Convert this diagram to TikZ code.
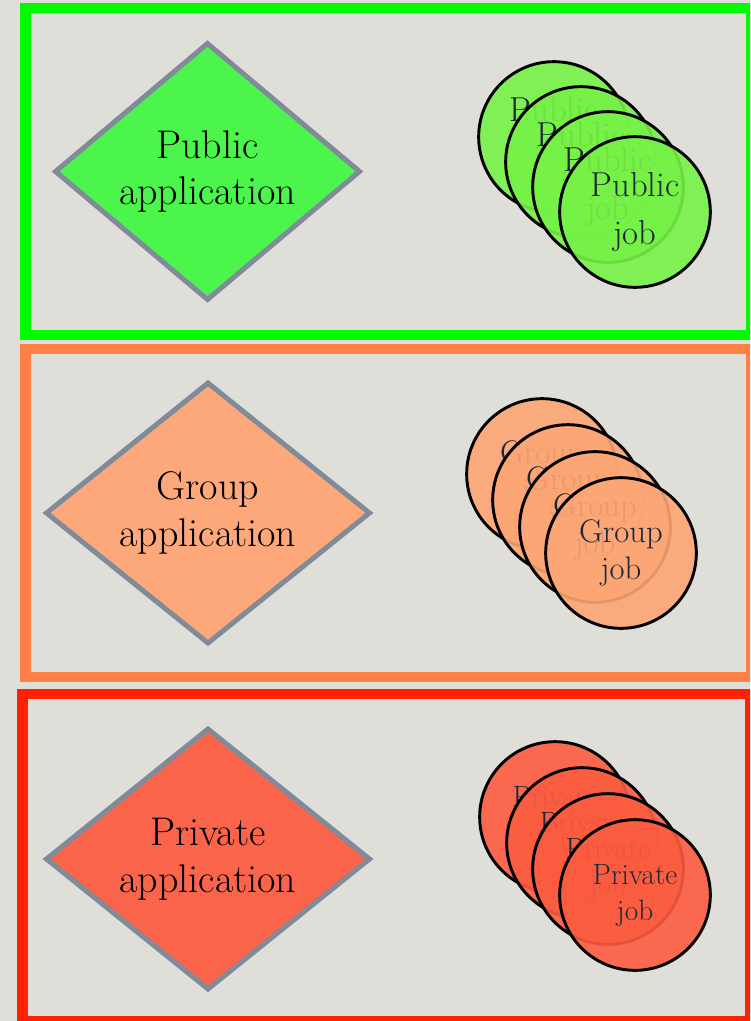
\documentclass[tikz,border=0pt]{standalone}
\usepackage{tikz}
\usetikzlibrary{shapes.geometric, positioning}

\definecolor{paper}{RGB}{224,222,217}
\definecolor{edgegray}{RGB}{128,139,154}
\definecolor{inkblue}{RGB}{28,40,56}
\definecolor{pubframe}{RGB}{0,250,0}
\definecolor{pubapp}{RGB}{76,245,76}
\definecolor{pubjob}{RGB}{118,242,70}
\definecolor{grpframe}{RGB}{255,128,68}
\definecolor{grpapp}{RGB}{252,168,122}
\definecolor{grpjob}{RGB}{252,166,116}
\definecolor{privframe}{RGB}{255,34,0}
\definecolor{privapp}{RGB}{250,100,74}
\definecolor{privjob}{RGB}{252,92,64}

\begin{document}
\begin{tikzpicture}[
    x=0.75pt, y=-0.75pt,
    frame/.style={line width=7.9pt},
    application/.style={diamond, draw=edgegray, line width=3.75pt, aspect=1.2, inner sep=0pt, align=center, font=\fontsize{30}{35}\selectfont},
    job/.style={circle, draw=black, line width=2.2pt, minimum size=113pt, inner sep=0pt, align=center, fill opacity=0.9, text opacity=1, text=inkblue}
]

% Background
\useasboundingbox (0,0) rectangle (750,1021);
\clip (0,0) rectangle (750,1021);
\fill[paper] (0,0) rectangle (750,1021);

% Frames
\draw[frame, pubframe] (25.5,8) rectangle (751,335);
\draw[frame, grpframe] (25.5,349) rectangle (751,677);
\draw[frame, privframe] (22.5,694) rectangle (750.5,1021);

% Public tier
\node[application, fill=pubapp, minimum width=229.5pt, minimum height=193.5pt] (pubapplication) at (207.5,171.5) {Public\\application};
\node[job, fill=pubjob, font=\fontsize{26}{36}\selectfont] (pubjob1) at (554,137) {Public\\job};
\node[job, fill=pubjob, font=\fontsize{26}{36}\selectfont] (pubjob2) at (581,162) {Public\\job};
\node[job, fill=pubjob, font=\fontsize{26}{36}\selectfont] (pubjob3) at (608,187) {Public\\job};
\node[job, fill=pubjob, font=\fontsize{26}{36}\selectfont] (pubjob4) at (635,212) {Public\\job};

% Group tier
\node[application, fill=grpapp, minimum width=243.75pt, minimum height=196.5pt] (grpapplication) at (208,513) {Group\\application};
\node[job, fill=grpjob, font=\fontsize{24.5}{28}\selectfont] (grpjob1) at (542,474) {Group\\job};
\node[job, fill=grpjob, font=\fontsize{24.5}{28}\selectfont] (grpjob2) at (568,500) {Group\\job};
\node[job, fill=grpjob, font=\fontsize{24.5}{28}\selectfont] (grpjob3) at (595,527) {Group\\job};
\node[job, fill=grpjob, font=\fontsize{24.5}{28}\selectfont] (grpjob4) at (621,553) {Group\\job};

% Private tier
\node[application, fill=privapp, minimum width=243.75pt, minimum height=196.5pt] (privapplication) at (208,859) {Private\\application};
\node[job, fill=privjob, font=\fontsize{22}{27}\selectfont] (privjob1) at (555,817) {Private\\job};
\node[job, fill=privjob, font=\fontsize{22}{27}\selectfont] (privjob2) at (582,843) {Private\\job};
\node[job, fill=privjob, font=\fontsize{22}{27}\selectfont] (privjob3) at (608,869) {Private\\job};
\node[job, fill=privjob, font=\fontsize{22}{27}\selectfont] (privjob4) at (635,895) {Private\\job};

\end{tikzpicture}
\end{document}
